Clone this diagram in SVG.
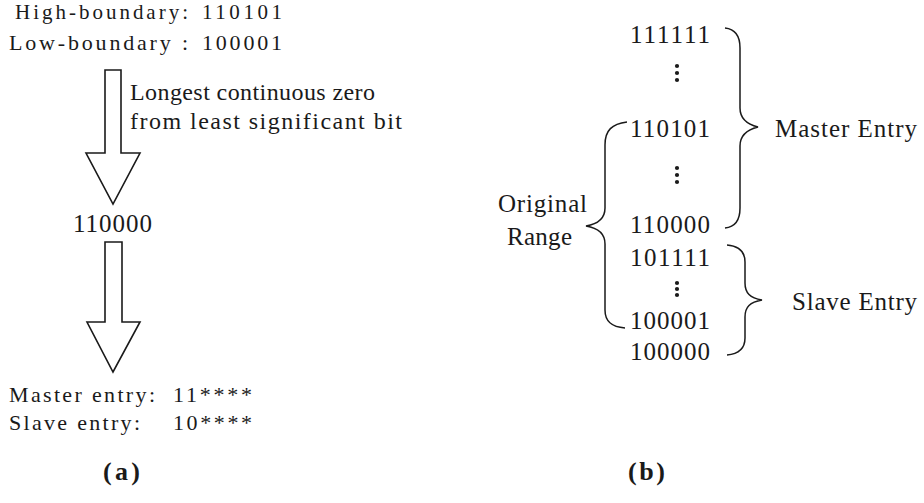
<svg xmlns="http://www.w3.org/2000/svg" width="924" height="503" viewBox="0 0 924 503">
<style>
text{font-family:"Liberation Serif","DejaVu Serif",serif;fill:#1a1a1a}
.t{font-size:21px}
.s{font-size:22px}
.l{font-size:24px}
.m{font-size:25px}
.b{font-size:26px;font-weight:bold}
.arrow{fill:#fff;stroke:#1a1a1a;stroke-width:1.6;stroke-linejoin:miter}
.brace{fill:none;stroke:#1a1a1a;stroke-width:1.5}
.dot{fill:#1a1a1a}
</style>
<rect width="924" height="503" fill="#fff"/>
<g id="panel-a">
<g id="boundaries">
<text class="t" x="15" y="19" textLength="173" lengthAdjust="spacing">High-boundary:</text>
<text class="t" x="202" y="19" textLength="80" lengthAdjust="spacing">110101</text>
<text class="s" x="9" y="50" textLength="179" lengthAdjust="spacing">Low-boundary :</text>
<text class="s" x="202" y="50" textLength="80" lengthAdjust="spacing">100001</text>
</g>
<g id="step-label">
<text class="l" x="130" y="100" textLength="245" lengthAdjust="spacing">Longest continuous zero</text>
<text class="l" x="130" y="129" textLength="272" lengthAdjust="spacing">from least significant bit</text>
</g>
<g id="mid-value">
<text class="m" x="73" y="232" textLength="79" lengthAdjust="spacing">110000</text>
</g>
<g id="entries-a">
<text class="s" x="9" y="402" textLength="146" lengthAdjust="spacing">Master entry:</text>
<text class="s" x="173" y="402" textLength="79" lengthAdjust="spacing">11****</text>
<text class="s" x="9" y="430" textLength="131" lengthAdjust="spacing">Slave entry:</text>
<text class="s" x="173" y="430" textLength="79" lengthAdjust="spacing">10****</text>
</g>
<g id="caption-a">
<text class="b" x="103" y="480" textLength="37" lengthAdjust="spacing">(a)</text>
</g>
</g>
<g id="connectors">
<polygon class="arrow" points="105,70 121,70 121,153 140,153 113,204 86,153 105,153"/>
<polygon class="arrow" points="105,242 122,242 122,322 140,322 113,372 87,322 105,322"/>
</g>
<g id="panel-b">
<g id="values">
<text class="m" x="630" y="43" textLength="80" lengthAdjust="spacing">111111</text>
<text class="m" x="630" y="137" textLength="80" lengthAdjust="spacing">110101</text>
<text class="m" x="630" y="233" textLength="80" lengthAdjust="spacing">110000</text>
<text class="m" x="630" y="266" textLength="80" lengthAdjust="spacing">101111</text>
<text class="m" x="630" y="329" textLength="80" lengthAdjust="spacing">100001</text>
<text class="m" x="630" y="360" textLength="80" lengthAdjust="spacing">100000</text>
<circle class="dot" cx="677" cy="66" r="2.1"/><circle class="dot" cx="677" cy="73" r="2.1"/><circle class="dot" cx="677" cy="80" r="2.1"/>
<circle class="dot" cx="677" cy="168" r="2.1"/><circle class="dot" cx="677" cy="175" r="2.1"/><circle class="dot" cx="677" cy="182" r="2.1"/>
<circle class="dot" cx="677" cy="283" r="2.1"/><circle class="dot" cx="677" cy="289" r="2.1"/><circle class="dot" cx="677" cy="295" r="2.1"/>
</g>
<g id="original-range">
<path class="brace" d="M627,122 C612,124 605,130 605,145 L605,208 C605,218 598,224 586,226 C598,228 605,234 605,244 L605,310 C605,322 612,327 625,328"/>
<text class="m" x="498" y="212" textLength="89" lengthAdjust="spacing">Original</text>
<text class="m" x="507" y="245" textLength="65" lengthAdjust="spacing">Range</text>
</g>
<g id="master-entry">
<path class="brace" d="M725,28 C735,29 740,35 740,48 L740,108 C740,118 746,124 758,127 C746,130 740,136 740,146 L740,208 C740,221 735,227 725,228"/>
<text class="m" x="775" y="137" textLength="142" lengthAdjust="spacing">Master Entry</text>
</g>
<g id="slave-entry">
<path class="brace" d="M727,245 C738,246 745,251 745,262 L745,283 C745,293 750,298 762,300 C750,302 745,307 745,317 L745,338 C745,349 738,354 727,355"/>
<text class="m" x="792" y="310" textLength="125" lengthAdjust="spacing">Slave Entry</text>
</g>
<g id="caption-b">
<text class="b" x="628" y="480" textLength="37" lengthAdjust="spacing">(b)</text>
</g>
</g>
</svg>
